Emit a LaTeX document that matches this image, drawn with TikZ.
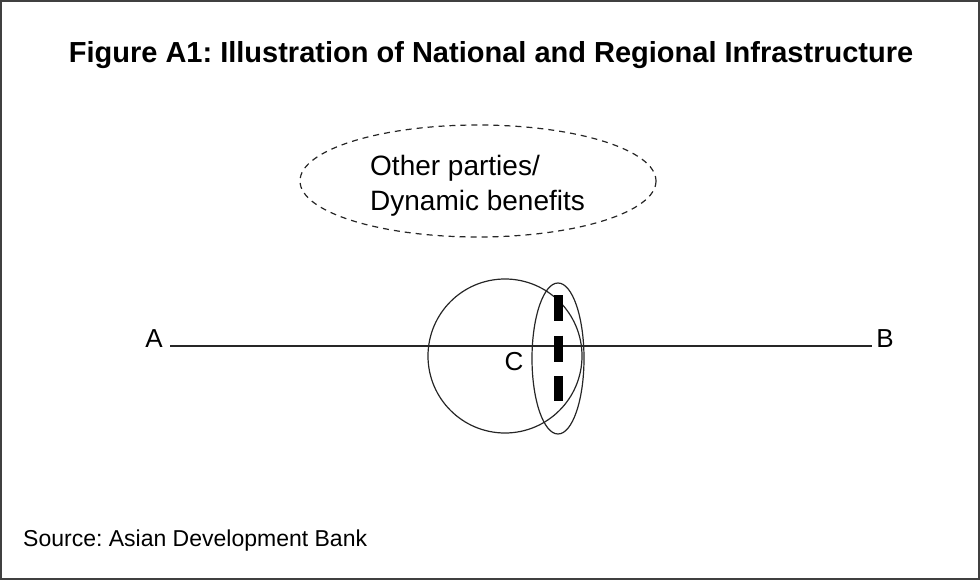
\documentclass[tikz,border=0pt]{standalone}
\usepackage{fontspec}
\setmainfont{Liberation Sans}
\begin{document}
\frenchspacing
\begin{tikzpicture}[x=1pt,y=-1pt,
  lbl/.style={inner sep=0pt, font=\fontsize{26}{30}\selectfont},
  thin line/.style={line width=1.2pt, black!85}]
\useasboundingbox (0,0) rectangle (980,580);
\draw[line width=1.6pt, black!75] (1,1) rectangle (979,579);
% title
\node[inner sep=0pt, anchor=base, font=\bfseries\fontsize{29}{34}\selectfont] (title) at (491,63) {Figure A1: Illustration of National and Regional Infrastructure};
% dashed ellipse with its text
\draw[thin line, dash pattern=on 6pt off 5pt] (478,181) ellipse [x radius=178, y radius=56];
\node[inner sep=0pt, align=left, anchor=west, font=\fontsize{28}{35}\selectfont] (other) at (370,185.3) {Other parties/\\Dynamic benefits};
% labels and the line A--B
\node[lbl] (A) at (154,339) {A};
\node[lbl] (B) at (885,339) {B};
\coordinate (a0) at (170,346);
\coordinate (b0) at (872,346);
\draw[thin line] (a0) -- (b0);
% circle and narrow ellipse
\draw[thin line] (505,356) circle [radius=77];
\draw[thin line] (558,358.5) ellipse [x radius=26, y radius=75.5];
\node[lbl] (C) at (514,362) {C};
% thick dashed border
\coordinate (d0) at (558,295);
\coordinate (d1) at (558,401);
\draw[line width=9pt, dash pattern=on 26pt off 14.5pt] (d0) -- (d1);
% source
\node[inner sep=0pt, anchor=base west, font=\fontsize{23}{27}\selectfont] (src) at (23,546) {Source: Asian Development Bank};
\end{tikzpicture}
\end{document}
